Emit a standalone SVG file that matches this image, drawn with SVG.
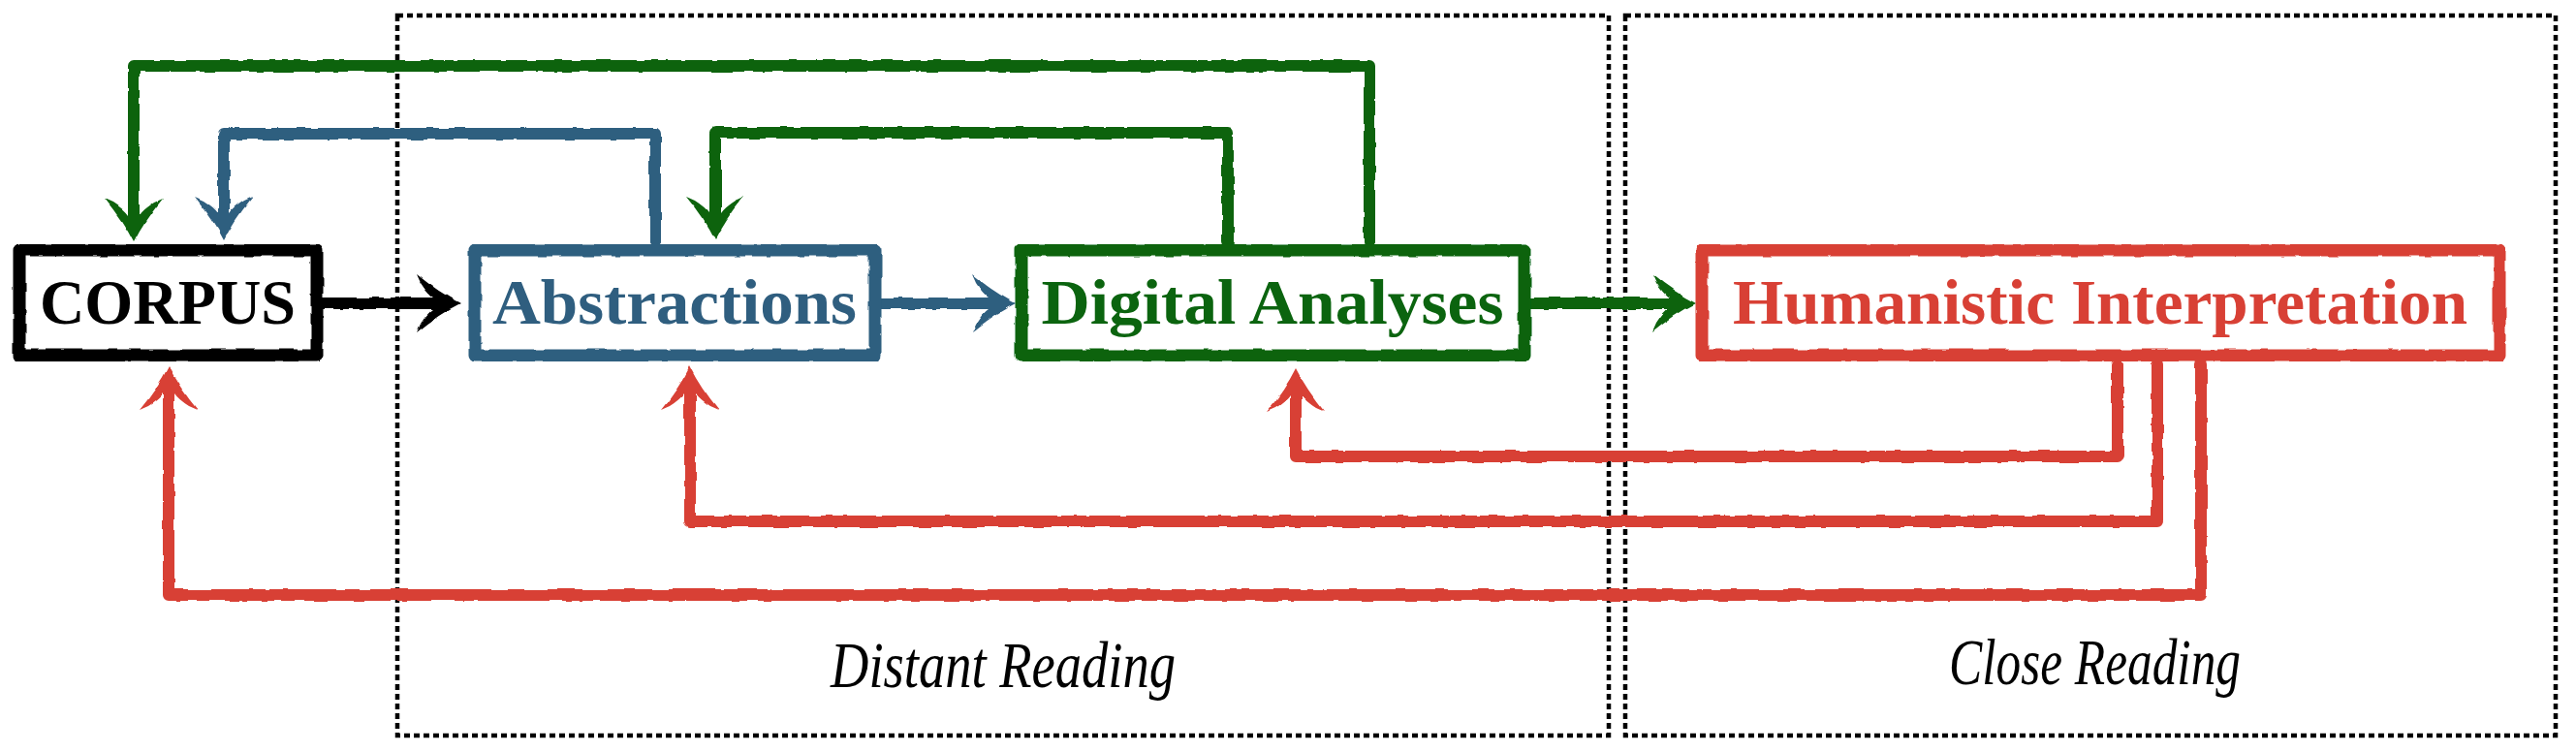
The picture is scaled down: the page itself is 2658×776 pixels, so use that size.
<svg xmlns="http://www.w3.org/2000/svg" width="2658" height="776" viewBox="0 0 2658 776">
<style>
  .frame { fill: none; stroke: #000; stroke-width: 4.5; stroke-dasharray: 6 4; }
  .box { fill: #fff; stroke-width: 13; stroke-linejoin: round; }
  .lbl { font-family: "Liberation Serif", "DejaVu Serif", serif; font-weight: bold; font-size: 66px; text-anchor: middle; }
  .region { font-family: "Liberation Serif", "DejaVu Serif", serif; font-style: italic; font-size: 68px; fill: #000; }
  .conn { fill: none; stroke-width: 12; stroke-linecap: round; stroke-linejoin: round; }
  .k { stroke: #000; }
  .b { stroke: #2f5e7f; }
  .g { stroke: #0b640f; }
  .r { stroke: #d84035; }
</style>
<defs>
  <filter id="rough" x="-5%" y="-5%" width="110%" height="110%">
    <feTurbulence type="fractalNoise" baseFrequency="0.06" numOctaves="2" seed="3" result="n"/>
    <feDisplacementMap in="SourceGraphic" in2="n" scale="4" xChannelSelector="R" yChannelSelector="G"/>
  </filter>
  <path id="headShape" d="M28 0 Q6 -11 -17 -30 L-13 -21 Q-6 -10 0 -6 L0 6 Q-6 10 -13 21 L-17 30 Q6 11 28 0 Z"/>
  <marker id="ak" viewBox="-20 -32 52 64" refX="0" refY="0" markerWidth="52" markerHeight="64" markerUnits="userSpaceOnUse" orient="auto"><use href="#headShape" fill="#000"/></marker>
  <marker id="ab" viewBox="-20 -32 52 64" refX="0" refY="0" markerWidth="52" markerHeight="64" markerUnits="userSpaceOnUse" orient="auto"><use href="#headShape" fill="#2f5e7f"/></marker>
  <marker id="ag" viewBox="-20 -32 52 64" refX="0" refY="0" markerWidth="52" markerHeight="64" markerUnits="userSpaceOnUse" orient="auto"><use href="#headShape" fill="#0b640f"/></marker>
  <marker id="ar" viewBox="-20 -32 52 64" refX="0" refY="0" markerWidth="52" markerHeight="64" markerUnits="userSpaceOnUse" orient="auto"><use href="#headShape" fill="#d84035"/></marker>
</defs>
<rect width="2658" height="776" fill="#fff"/>

<g id="regions">
  <rect class="frame" x="410" y="16" width="1250" height="743"/>
  <rect class="frame" x="1677" y="16" width="960" height="743"/>
  <text class="region" x="857" y="709" textLength="356" lengthAdjust="spacingAndGlyphs">Distant Reading</text>
  <text class="region" x="2011" y="706" textLength="301" lengthAdjust="spacingAndGlyphs">Close Reading</text>
</g>

<g id="connectors" filter="url(#rough)">
  <path class="conn k" d="M333 313 H447" marker-end="url(#ak)"/>
  <path class="conn b" d="M909 313 H1020" marker-end="url(#ab)"/>
  <path class="conn g" d="M1579 313 H1722" marker-end="url(#ag)"/>
  <path class="conn g" d="M1413 250 V68 H138 V222" marker-end="url(#ag)"/>
  <path class="conn b" d="M676 250 V138 H231 V220" marker-end="url(#ab)"/>
  <path class="conn g" d="M1267 250 V137 H738 V220" marker-end="url(#ag)"/>
  <path class="conn r" d="M2185 376 V471 H1337 V408" marker-end="url(#ar)"/>
  <path class="conn r" d="M2226 376 V538 H712 V406" marker-end="url(#ar)"/>
  <path class="conn r" d="M2271 376 V614 H174 V406" marker-end="url(#ar)"/>
</g>

<g id="corpus">
  <rect class="box" x="20" y="258" width="307" height="109" stroke="#000" filter="url(#rough)"/>
  <text class="lbl" x="173" y="334" fill="#000" textLength="264" lengthAdjust="spacingAndGlyphs">CORPUS</text>
</g>
<g id="abstractions">
  <rect class="box" x="490" y="258" width="413" height="109" stroke="#2f5e7f" filter="url(#rough)"/>
  <text class="lbl" x="696" y="334" fill="#2f5e7f" textLength="376" lengthAdjust="spacingAndGlyphs">Abstractions</text>
</g>
<g id="digital">
  <rect class="box" x="1054" y="258" width="519" height="109" stroke="#0b640f" filter="url(#rough)"/>
  <text class="lbl" x="1313" y="334" fill="#0b640f" textLength="477" lengthAdjust="spacingAndGlyphs">Digital Analyses</text>
</g>
<g id="humanistic">
  <rect class="box" x="1756" y="258" width="823" height="109" stroke="#d84035" filter="url(#rough)"/>
  <text class="lbl" x="2167" y="334" fill="#d84035" textLength="758" lengthAdjust="spacingAndGlyphs">Humanistic Interpretation</text>
</g>
</svg>
